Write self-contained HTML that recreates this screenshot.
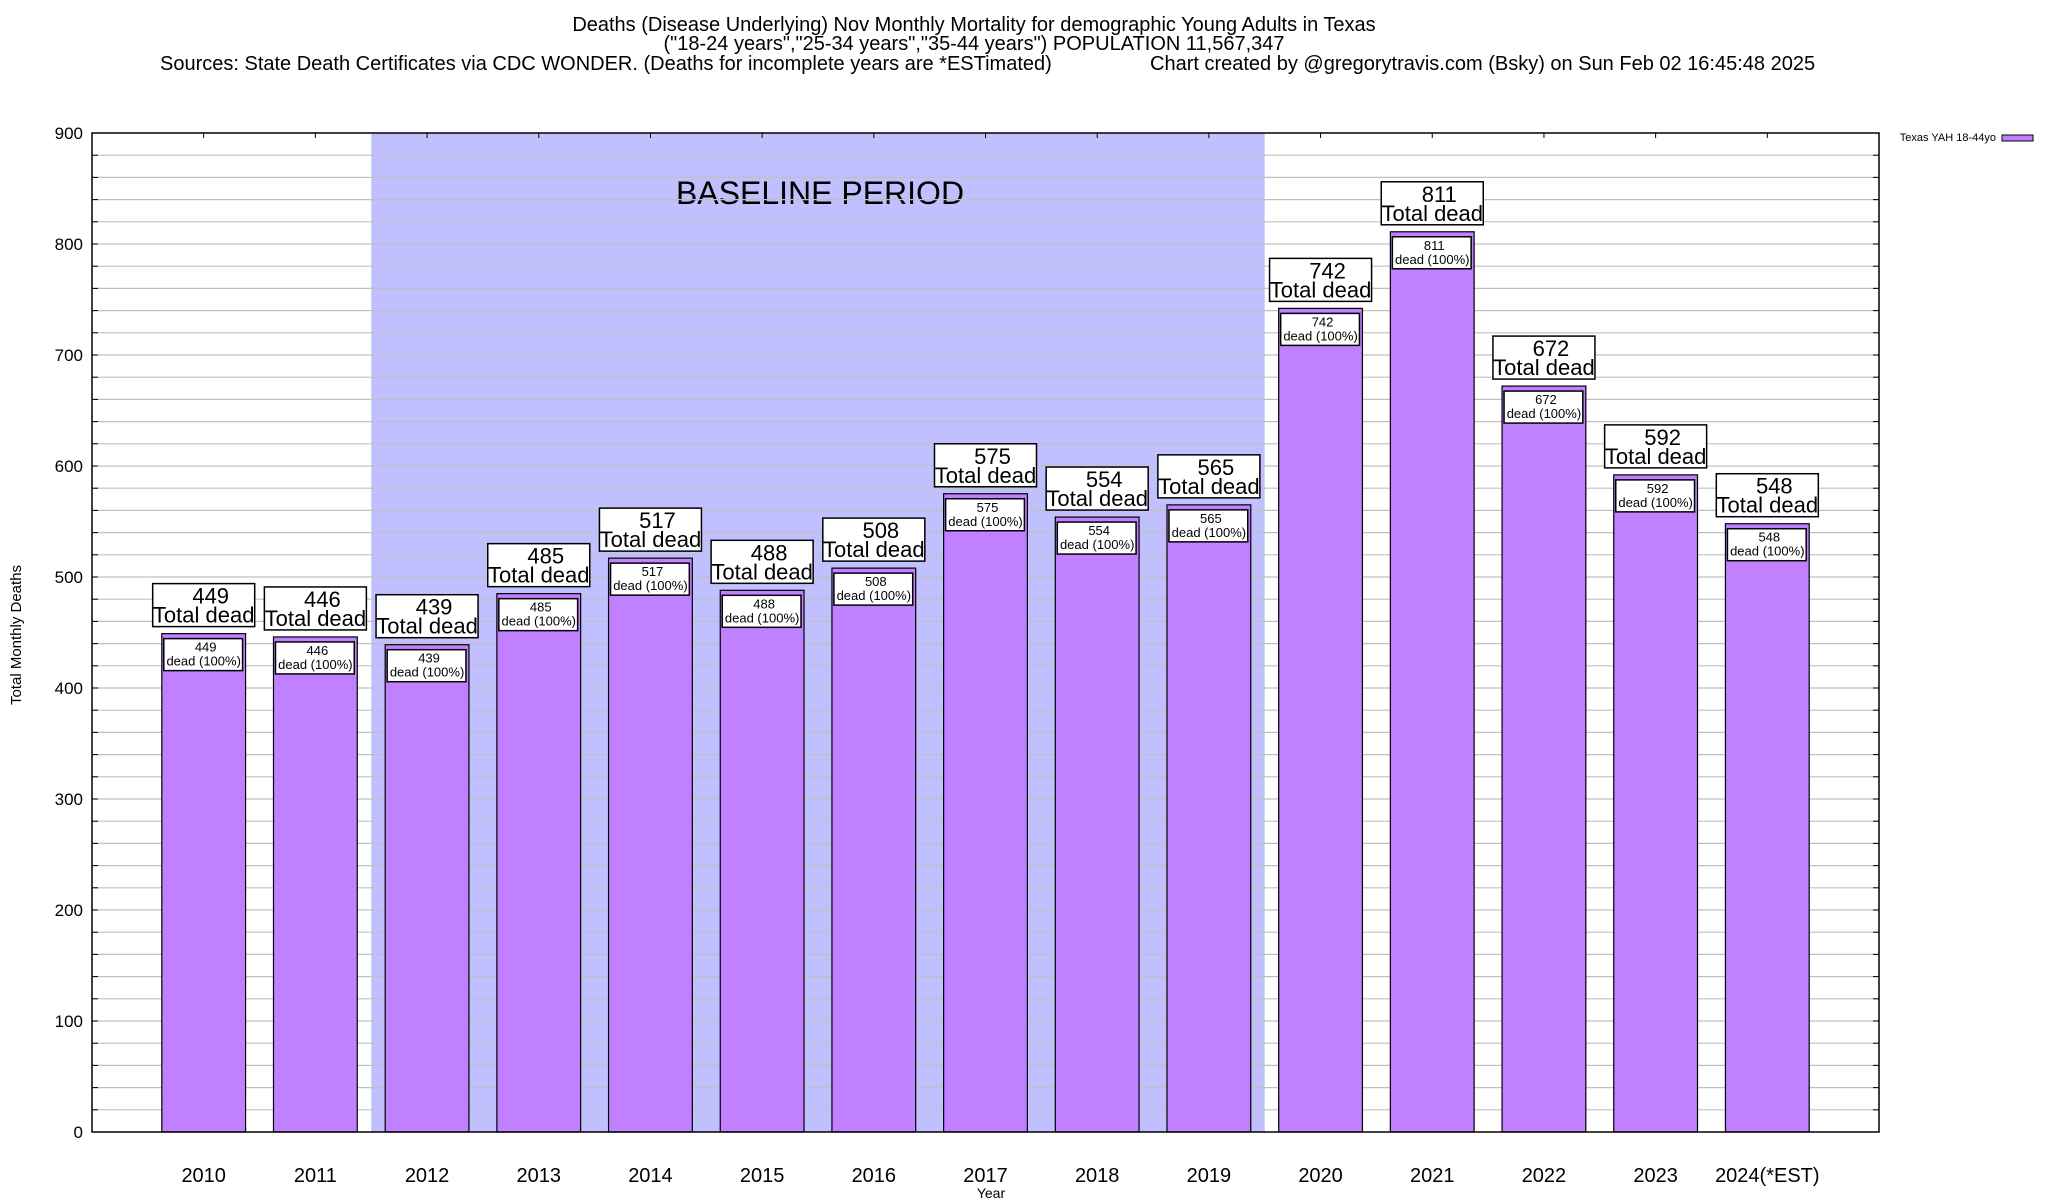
<!DOCTYPE html>
<html><head><meta charset="utf-8"><style>
html,body{margin:0;padding:0;background:#fff}
svg{display:block}
text{font-family:"Liberation Sans",sans-serif;fill:#000}
</style></head><body>
<svg id="chart" width="2048" height="1200" viewBox="0 0 2048 1200">
<text x="974" y="31" font-size="20" text-anchor="middle">Deaths (Disease Underlying) Nov Monthly Mortality for demographic Young Adults in Texas</text>
<text x="974" y="50" font-size="20" text-anchor="middle">("18-24 years","25-34 years","35-44 years") POPULATION 11,567,347</text>
<text x="160" y="70" font-size="20">Sources: State Death Certificates via CDC WONDER. (Deaths for incomplete years are *ESTimated)</text>
<text x="1150" y="70" font-size="20">Chart created by @gregorytravis.com (Bsky) on Sun Feb 02 16:45:48 2025</text>
<g id="plot"></g>
<text x="1996" y="141" font-size="11" text-anchor="end">Texas YAH 18-44yo</text>
<rect x="2002" y="135" width="31" height="6" fill="#c080ff" stroke="#000" stroke-width="1"/>
<text x="991" y="1198" font-size="14" text-anchor="middle">Year</text>
<text transform="translate(21,635) rotate(-90)" font-size="15" text-anchor="middle">Total Monthly Deaths</text>
</svg>
<script>
const categories = ["2010","2011","2012","2013","2014","2015","2016","2017","2018","2019","2020","2021","2022","2023","2024(*EST)"];
const deaths = [449,446,439,485,517,488,508,575,554,565,742,811,672,592,548];
const yTicks = [0,100,200,300,400,500,600,700,800,900];
const baselineRange = [1.5, 9.5];

const L=92,R=1879,T=133,B=1132;
const yMax=900;
const unit=(R-L)/16;
function xs(i){return L+(i+1)*unit;}
function ys(v){return B-(v/yMax)*(B-T);}
const NS="http://www.w3.org/2000/svg";
const g=document.getElementById('plot');
function mk(tag,attrs,parent){const e=document.createElementNS(NS,tag);for(const k in attrs)e.setAttribute(k,attrs[k]);(parent||g).appendChild(e);return e;}

const sh=mk('rect',{x:xs(baselineRange[0]),y:T,width:xs(baselineRange[1])-xs(baselineRange[0]),height:B-T,fill:'#c0c0ff'});


const bt=mk('text',{x:820,y:204,'font-size':32,'text-anchor':'middle'});bt.textContent='BASELINE PERIOD';



for(let v=20;v<yMax;v+=20){
  const gl=mk('line',{x1:L,x2:R,y1:ys(v),y2:ys(v),stroke:'#c0c0c0','stroke-width':1.2});
  
  
  mk('line',{x1:L,x2:L+6,y1:ys(v),y2:ys(v),stroke:'#000','stroke-width':1});
  mk('line',{x1:R-6,x2:R,y1:ys(v),y2:ys(v),stroke:'#000','stroke-width':1});
}
yTicks.forEach(v=>{
  const t=mk('text',{x:83,y:ys(v)+6,'font-size':17,'text-anchor':'end'});t.textContent=v;
  
  
});

const bw=unit*0.75;
categories.forEach((c,i)=>{
  const cx=xs(i),v=deaths[i],top=ys(v);
  const b=mk('rect',{x:cx-bw/2,y:top,width:bw,height:B-top,fill:'#c080ff',stroke:'#000','stroke-width':1.2});
  
  
  const ib=mk('rect',{x:cx-bw/2+2,y:top+5,width:bw-5,height:32,fill:'#fff',stroke:'#000','stroke-width':1.5});
  
  
  const t1=mk('text',{x:cx+2,y:top+18,'font-size':13,'text-anchor':'middle'});t1.textContent=v;
  
  
  const t2=mk('text',{x:cx,y:top+32,'font-size':13,'text-anchor':'middle'});t2.textContent='dead (100%)';
  
  
  const ob=mk('rect',{x:cx-51,y:top-50,width:102,height:43,fill:'#fff',stroke:'#000','stroke-width':1.5});
  
  
  const t3=mk('text',{x:cx+7,y:top-30,'font-size':22,'text-anchor':'middle'});t3.textContent=v;
  
  
  const t4=mk('text',{x:cx,y:top-11,'font-size':22,'text-anchor':'middle'});t4.textContent='Total dead';
  
  
  const xl=mk('text',{x:cx,y:1182,'font-size':20,'text-anchor':'middle'});xl.textContent=c;
  
  
  mk('line',{x1:cx,x2:cx,y1:T,y2:T+5,stroke:'#000','stroke-width':1});
});

const fr=mk('rect',{x:L,y:T,width:R-L,height:B-T,fill:'none',stroke:'#000','stroke-width':1.5});


</script>
</body></html>
